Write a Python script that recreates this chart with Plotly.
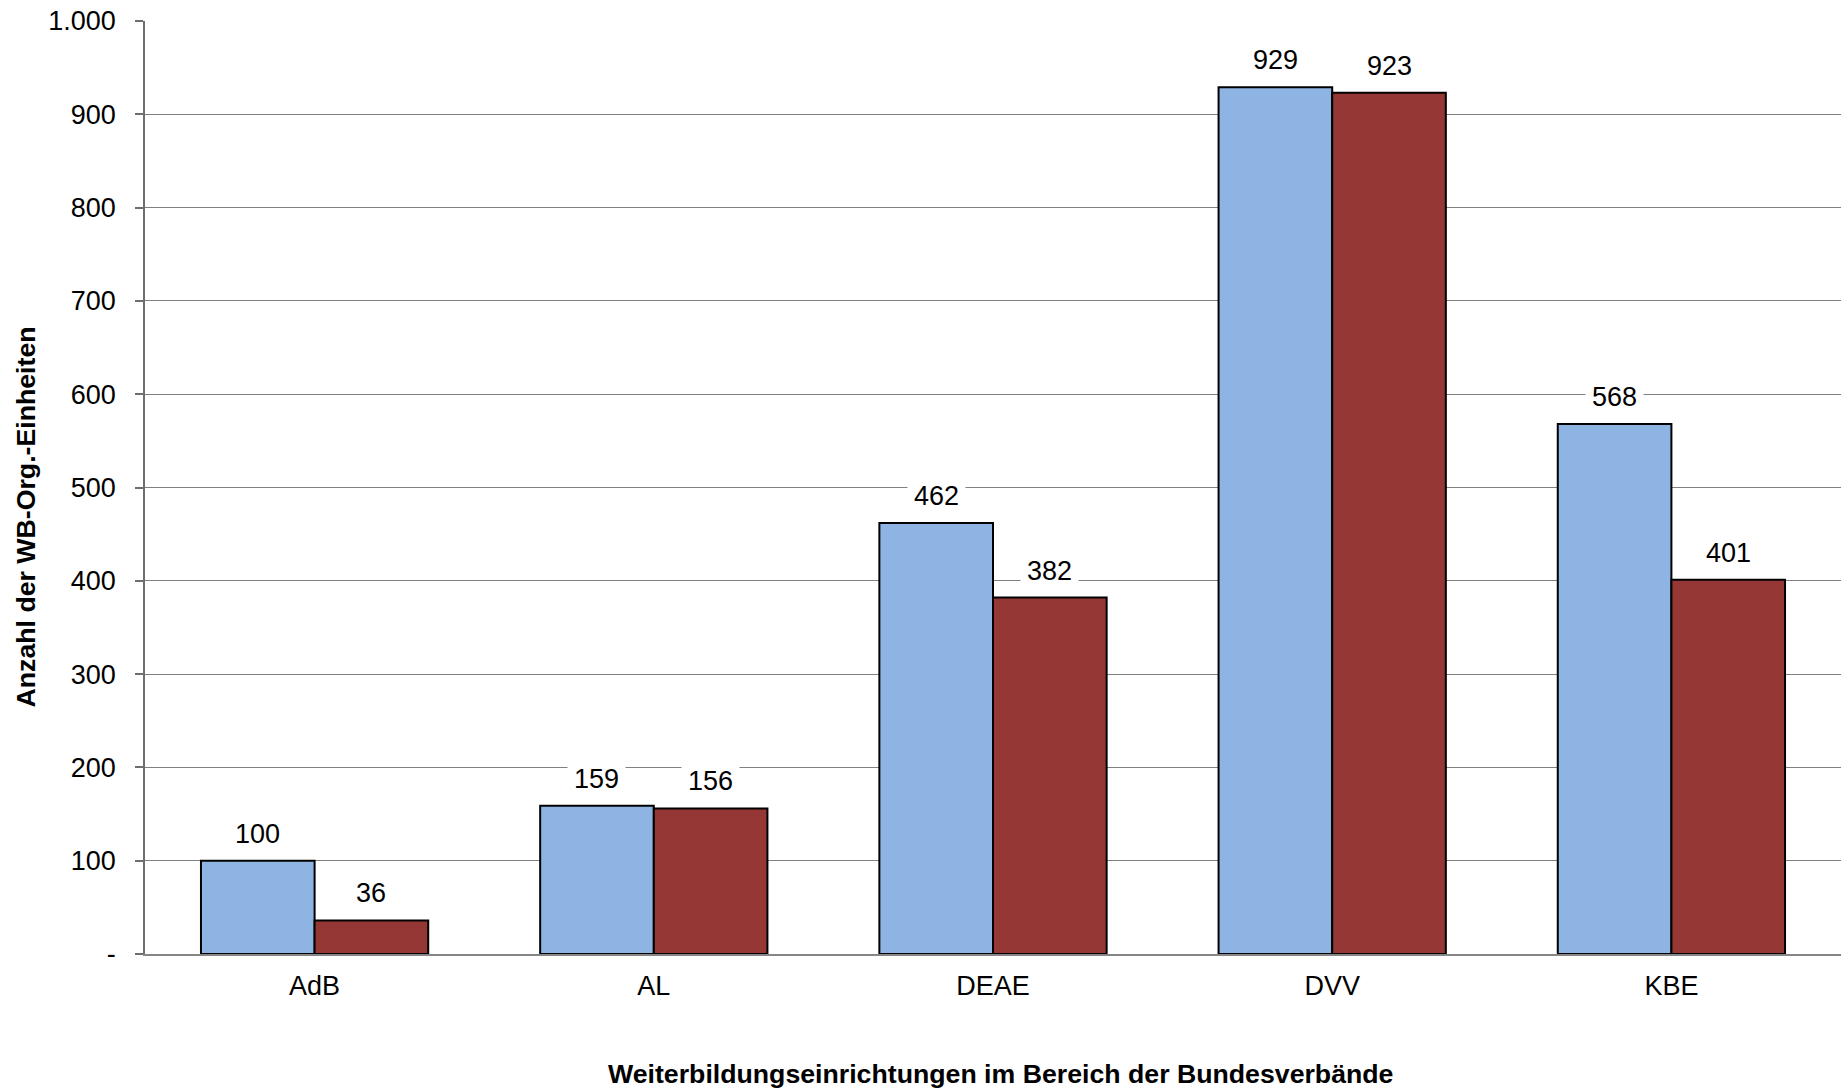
import plotly.graph_objects as go

categories = ["AdB", "AL", "DEAE", "DVV", "KBE"]
series_a = [100, 159, 462, 929, 568]
series_b = [36, 156, 382, 923, 401]
series_names = ["Reihe 1", "Reihe 2"]
y_tickvals = [0, 100, 200, 300, 400, 500, 600, 700, 800, 900, 1000]
y_ticktext = ["-", "100", "200", "300", "400", "500", "600", "700", "800", "900", "1.000"]
x_title = "Weiterbildungseinrichtungen im Bereich der Bundesverbände"
y_title = "Anzahl der WB-Org.-Einheiten"

W, H = 1841, 1092
margin = dict(l=145, r=0, t=21, b=138)
bargap = 0.33
font_family = "Liberation Sans, Arial, sans-serif"
fs = 27
fs_title = 26.7

fig = go.Figure()
fig.add_trace(go.Bar(x=categories, y=series_a, name=series_names[0],
                     marker=dict(color="#8EB4E3", line=dict(color="black", width=2))))
fig.add_trace(go.Bar(x=categories, y=series_b, name=series_names[1],
                     marker=dict(color="#953735", line=dict(color="black", width=2))))

plot_w = W - margin["l"] - margin["r"]
cat_w = plot_w / len(categories)
offset = (1 - bargap) * cat_w / 4

annotations = []
for vals, sign in ((series_a, -1), (series_b, 1)):
    for c, v in zip(categories, vals):
        annotations.append(dict(x=c, y=v, xref="x", yref="y", text=str(v),
                                showarrow=False, xshift=sign * offset, yshift=27,
                                yanchor="middle", bgcolor="white", borderpad=6,
                                font=dict(size=fs, color="black", family=font_family)))

annotations.append(dict(text="<b>" + x_title + "</b>", xref="paper", yref="paper",
                        x=0.5, y=0, xanchor="center", yanchor="middle",
                        xshift=7, yshift=-120, showarrow=False,
                        font=dict(size=fs_title, color="black", family=font_family)))
annotations.append(dict(text="<b>" + y_title + "</b>", xref="paper", yref="paper",
                        x=0, y=0.5, xanchor="center", yanchor="middle", textangle=-90,
                        xshift=-120, yshift=-30, showarrow=False,
                        font=dict(size=fs_title, color="black", family=font_family)))

fig.update_layout(
    width=W, height=H, margin=dict(margin, autoexpand=False),
    paper_bgcolor="white", plot_bgcolor="white",
    barmode="group", bargap=bargap, bargroupgap=0,
    showlegend=False,
    font=dict(family=font_family, size=fs, color="black"),
    annotations=annotations,
)
fig.update_xaxes(
    showline=True, linecolor="#868686", linewidth=1.5,
    ticks="", ticklabelstandoff=7,
    tickfont=dict(size=fs),
)
fig.update_yaxes(
    range=[0, 1000], tickvals=y_tickvals, ticktext=y_ticktext,
    showgrid=True, gridcolor="#808080", gridwidth=1.3,
    showline=True, linecolor="#6e6e6e", linewidth=1.5,
    ticks="outside", ticklen=8, tickcolor="#6e6e6e", tickwidth=1.5,
    ticklabelstandoff=14, zeroline=False,
)

fig.write_html(
    "out.html",
    config={"displayModeBar": False},
    post_script="document.body.style.margin='0';document.body.style.overflow='hidden';",
)
